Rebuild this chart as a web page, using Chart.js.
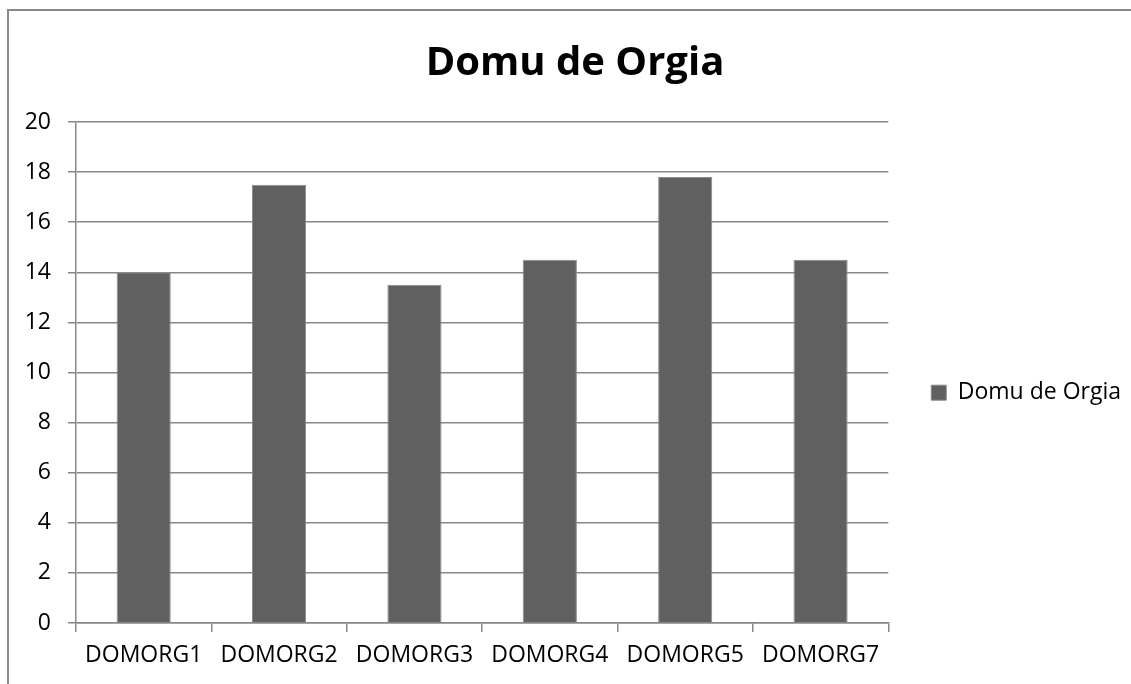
<!DOCTYPE html>
<html>
<head>
<meta charset="utf-8">
<title>Domu de Orgia</title>
<script src="https://cdn.jsdelivr.net/npm/chart.js@4/dist/chart.umd.min.js"></script>
<style>
    html, body { margin: 0; padding: 0; background: #fff; overflow: hidden; }
    #frame {
        position: absolute; left: 7px; top: 9px;
        width: 1200px; height: 800px;
        border: 2px solid #8a8a8a;
    }
    #wrap { position: absolute; left: 0; top: 0; width: 1131px; height: 684px; }
</style>
</head>
<body>
<div id="frame"></div>
<div id="wrap"><canvas id="chart" width="1131" height="684"></canvas></div>
<script>
// categorii si valori
const categories = ["DOMORG1", "DOMORG2", "DOMORG3", "DOMORG4", "DOMORG5", "DOMORG7"];
const seriesName = "Domu de Orgia";
const values = [14, 17.5, 13.5, 14.5, 17.8, 14.5];
const yTicks = [0, 2, 4, 6, 8, 10, 12, 14, 16, 18, 20];

const FONT = "'Open Sans', 'DejaVu Sans', sans-serif";
const GRID = '#878787';

const ctx = document.getElementById('chart').getContext('2d');
const chart = new Chart(ctx, {
    type: 'bar',
    data: {
        labels: categories,
        datasets: [{
            label: seriesName,
            data: values,
            backgroundColor: '#606060',
            borderColor: '#8c8c8c',
            borderWidth: 1,
            barPercentage: 0.4,
            categoryPercentage: 1
        }]
    },
    options: {
        responsive: false,
        animation: false,
        layout: { padding: { left: 19, top: 9, right: 0, bottom: 0 } },
        plugins: {
            tooltip: { enabled: false },
            title: {
                display: true,
                text: seriesName,
                color: '#000',
                font: { family: FONT, size: 40, weight: 'bold', lineHeight: 1.2 },
                padding: { top: 31, bottom: 34 }
            },
            legend: {
                position: 'right',
                fullSize: false,
                maxWidth: 243,
                // titlul gol doar coboara intrarea din legenda
                title: {
                    display: true,
                    text: ' ',
                    font: { family: FONT, size: 12, lineHeight: 1.2 },
                    padding: { top: 0, bottom: 26 }
                },
                labels: {
                    color: '#000',
                    font: { family: FONT, size: 23 },
                    boxWidth: 15,
                    boxHeight: 15,
                    padding: 43
                }
            }
        },
        scales: {
            x: {
                offset: true,
                grid: {
                    display: true,
                    drawOnChartArea: false,
                    offset: true,
                    color: GRID,
                    tickLength: 9,
                    lineWidth: 1.5
                },
                border: { display: true, color: GRID, width: 1.5 },
                ticks: {
                    color: '#000',
                    font: { family: FONT, size: 23 },
                    maxRotation: 0,
                    autoSkip: false,
                    padding: 10
                },
                afterFit: scale => { scale.height = 61; }
            },
            y: {
                min: 0,
                max: 20,
                afterBuildTicks: scale => { scale.ticks = yTicks.map(v => ({ value: v })); },
                grid: { color: GRID, tickLength: 8, lineWidth: 1.5 },
                border: { display: true, color: GRID, width: 1.5 },
                ticks: {
                    color: '#000',
                    font: { family: FONT, size: 23 },
                    padding: 17
                },
                afterFit: scale => { scale.width = 57; }
            }
        }
    }
});
</script>
</body>
</html>
